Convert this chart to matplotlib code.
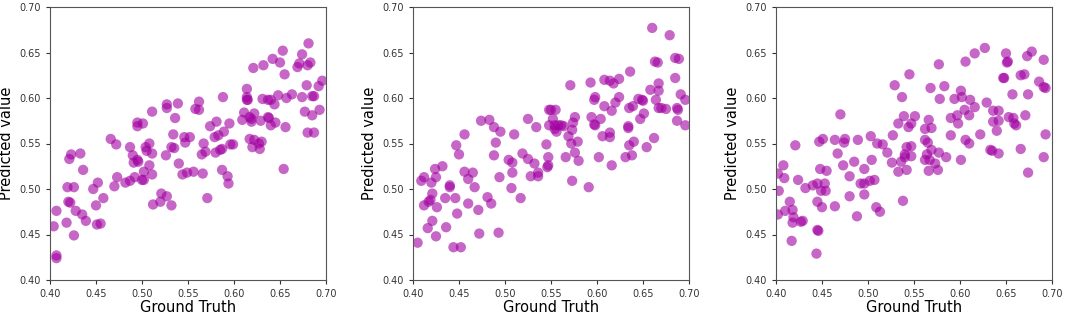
import matplotlib.pyplot as plt
import numpy as np

# 三个面板的散点数据 (真实值, 预测值)
gt_a = [0.407, 0.407, 0.404, 0.407, 0.418, 0.419, 0.420, 0.422, 0.421, 0.423,
        0.426, 0.426, 0.428, 0.433, 0.435, 0.436, 0.439, 0.447, 0.450, 0.452,
        0.451, 0.455, 0.458, 0.466, 0.470, 0.472, 0.473, 0.482, 0.487, 0.487,
        0.490, 0.492, 0.491, 0.495, 0.495, 0.501, 0.495, 0.496, 0.500, 0.502,
        0.502, 0.504, 0.505, 0.508, 0.508, 0.511, 0.511, 0.511, 0.512, 0.520,
        0.521, 0.526, 0.527, 0.527, 0.527, 0.532, 0.532, 0.534, 0.535, 0.536,
        0.539, 0.540, 0.544, 0.546, 0.547, 0.549, 0.552,
        0.556, 0.566, 0.558, 0.562, 0.562, 0.571, 0.567, 0.565, 0.569, 0.574,
        0.581, 0.579, 0.583, 0.589, 0.580, 0.585, 0.587, 0.588, 0.595, 0.596,
        0.599, 0.587, 0.593, 0.594, 0.609, 0.611, 0.614, 0.614, 0.615, 0.614,
        0.617, 0.619, 0.622, 0.619, 0.617, 0.620, 0.622, 0.627, 0.628, 0.630,
        0.621, 0.632, 0.629, 0.631, 0.637, 0.640, 0.644, 0.637, 0.638, 0.640,
        0.645, 0.642, 0.650, 0.648, 0.653, 0.655, 0.656, 0.654, 0.657, 0.663,
        0.669, 0.671, 0.674, 0.680, 0.683, 0.681, 0.674, 0.679, 0.677, 0.685,
        0.693, 0.680, 0.687, 0.685, 0.687, 0.692, 0.696]
pred_a = [0.427, 0.424, 0.459, 0.476, 0.463, 0.502, 0.486, 0.485, 0.533, 0.538,
          0.502, 0.449, 0.476, 0.539, 0.472, 0.521, 0.465, 0.500, 0.482, 0.507,
          0.461, 0.462, 0.490, 0.555, 0.503, 0.549, 0.513, 0.507, 0.546, 0.509,
          0.537, 0.513, 0.529, 0.569, 0.573, 0.572, 0.532, 0.530, 0.510, 0.510,
          0.519, 0.546, 0.542, 0.550, 0.526, 0.516, 0.539, 0.585, 0.483, 0.486,
          0.495, 0.537, 0.593, 0.589, 0.492, 0.482, 0.546, 0.560, 0.545, 0.578,
          0.594, 0.528, 0.516, 0.557, 0.551, 0.518, 0.557,
          0.519, 0.517, 0.588, 0.596, 0.587, 0.490, 0.550, 0.538, 0.541, 0.569,
          0.574, 0.557, 0.559, 0.563, 0.540, 0.543, 0.544, 0.601, 0.572, 0.549,
          0.549, 0.521, 0.514, 0.506, 0.576, 0.584, 0.610, 0.598, 0.598, 0.601,
          0.579, 0.574, 0.583, 0.577, 0.555, 0.546, 0.554, 0.550, 0.544, 0.552,
          0.633, 0.636, 0.575, 0.599, 0.598, 0.598, 0.593, 0.579, 0.578, 0.570,
          0.573, 0.643, 0.639, 0.603, 0.652, 0.626, 0.568, 0.522, 0.600, 0.604,
          0.634, 0.638, 0.648, 0.636, 0.639, 0.660, 0.601, 0.614, 0.585, 0.581,
          0.587, 0.562, 0.562, 0.602, 0.602, 0.613, 0.619]

gt_b = [0.405, 0.409, 0.412, 0.412, 0.417, 0.419, 0.421, 0.420, 0.425, 0.424,
        0.432, 0.426, 0.416, 0.421, 0.425, 0.436, 0.435, 0.440, 0.440, 0.446,
        0.444, 0.452, 0.447, 0.450, 0.448, 0.456, 0.456, 0.460, 0.465, 0.467,
        0.460, 0.471, 0.472, 0.474, 0.483, 0.488, 0.495, 0.481, 0.485, 0.490,
        0.488, 0.494, 0.493, 0.504, 0.508, 0.508, 0.507, 0.510, 0.517, 0.519,
        0.525, 0.532, 0.525, 0.528, 0.536, 0.536, 0.534, 0.545, 0.547, 0.546,
        0.547, 0.548, 0.550, 0.548, 0.552, 0.554,
        0.555, 0.554, 0.558, 0.561, 0.564, 0.556, 0.571, 0.576, 0.574, 0.573,
        0.569, 0.572, 0.579, 0.576, 0.580, 0.566, 0.573, 0.591, 0.593, 0.598,
        0.597, 0.594, 0.597, 0.598, 0.604, 0.606, 0.614, 0.614, 0.602, 0.616,
        0.608, 0.614, 0.618, 0.624, 0.608, 0.616, 0.620, 0.624, 0.636, 0.635,
        0.639, 0.634, 0.634, 0.640, 0.635, 0.638, 0.631, 0.645, 0.649, 0.650,
        0.647, 0.651, 0.654, 0.662, 0.658, 0.660, 0.663, 0.666, 0.667, 0.667,
        0.664, 0.667, 0.670, 0.675, 0.679, 0.685, 0.689, 0.685, 0.687, 0.688,
        0.687, 0.691, 0.696, 0.696]
pred_b = [0.441, 0.509, 0.513, 0.482, 0.486, 0.488, 0.495, 0.507, 0.513, 0.522,
          0.525, 0.480, 0.457, 0.465, 0.448, 0.458, 0.490, 0.504, 0.502, 0.490,
          0.436, 0.436, 0.548, 0.538, 0.473, 0.560, 0.519, 0.511, 0.518, 0.502,
          0.484, 0.477, 0.451, 0.575, 0.576, 0.568, 0.563, 0.491, 0.484, 0.551,
          0.537, 0.513, 0.452, 0.532, 0.529, 0.518, 0.501, 0.560, 0.490, 0.539,
          0.533, 0.528, 0.577, 0.514, 0.518, 0.514, 0.568, 0.549, 0.535, 0.524,
          0.526, 0.587, 0.587, 0.570, 0.577, 0.566,
          0.587, 0.570, 0.570, 0.570, 0.569, 0.563, 0.614, 0.579, 0.573, 0.565,
          0.558, 0.550, 0.552, 0.540, 0.531, 0.535, 0.509, 0.502, 0.617, 0.601,
          0.598, 0.579, 0.571, 0.570, 0.577, 0.558, 0.562, 0.557, 0.535, 0.526,
          0.620, 0.619, 0.616, 0.621, 0.591, 0.586, 0.595, 0.601, 0.629, 0.589,
          0.591, 0.569, 0.567, 0.552, 0.548, 0.537, 0.535, 0.599, 0.598, 0.597,
          0.577, 0.583, 0.546, 0.556, 0.609, 0.677, 0.640, 0.639, 0.616, 0.608,
          0.598, 0.589, 0.589, 0.588, 0.669, 0.644, 0.643, 0.622, 0.589, 0.587,
          0.575, 0.604, 0.598, 0.570]

gt_c = [0.402, 0.403, 0.402, 0.408, 0.409, 0.410, 0.415, 0.418, 0.419, 0.418,
        0.427, 0.429, 0.417, 0.421, 0.424, 0.432, 0.440, 0.445, 0.453, 0.445,
        0.450, 0.448, 0.455, 0.447, 0.451, 0.449, 0.454, 0.445, 0.446, 0.444,
        0.464, 0.475, 0.474, 0.470, 0.467, 0.473, 0.464, 0.480, 0.485, 0.480,
        0.488, 0.489, 0.492, 0.496, 0.502, 0.507, 0.496, 0.504, 0.496, 0.503,
        0.509, 0.513, 0.510, 0.516, 0.521, 0.527, 0.526, 0.533, 0.536, 0.540,
        0.540, 0.542, 0.547, 0.547, 0.542, 0.529, 0.533, 0.537, 0.539, 0.545,
        0.544, 0.547, 0.551, 0.538,
        0.562, 0.569, 0.566, 0.562, 0.565, 0.569, 0.564, 0.562, 0.567, 0.573,
        0.566, 0.576, 0.577, 0.585, 0.568, 0.577, 0.578, 0.583, 0.590, 0.597,
        0.594, 0.601, 0.602, 0.605, 0.610, 0.611, 0.616, 0.598, 0.590, 0.601,
        0.606, 0.610, 0.606, 0.616, 0.627, 0.622, 0.629, 0.636, 0.642, 0.636,
        0.640, 0.642, 0.633, 0.635, 0.642, 0.647, 0.648, 0.650, 0.651, 0.652,
        0.653, 0.658, 0.661, 0.659, 0.657, 0.666, 0.666, 0.670, 0.671, 0.673,
        0.678, 0.674, 0.674, 0.686, 0.691, 0.693, 0.691, 0.693, 0.691]
pred_c = [0.517, 0.498, 0.472, 0.526, 0.512, 0.476, 0.486, 0.477, 0.469, 0.463,
          0.464, 0.465, 0.443, 0.548, 0.510, 0.501, 0.504, 0.506, 0.506, 0.486,
          0.480, 0.522, 0.520, 0.552, 0.555, 0.498, 0.498, 0.455, 0.454, 0.429,
          0.554, 0.555, 0.551, 0.582, 0.539, 0.526, 0.481, 0.514, 0.530, 0.492,
          0.470, 0.554, 0.506, 0.506, 0.509, 0.510, 0.522, 0.532, 0.494, 0.558,
          0.480, 0.475, 0.550, 0.549, 0.540, 0.559, 0.529, 0.519, 0.530, 0.535,
          0.538, 0.546, 0.547, 0.536, 0.521, 0.614, 0.572, 0.601, 0.580, 0.626,
          0.568, 0.572, 0.580, 0.487,
          0.566, 0.567, 0.576, 0.554, 0.551, 0.543, 0.538, 0.532, 0.532, 0.528,
          0.520, 0.521, 0.540, 0.535, 0.611, 0.637, 0.599, 0.613, 0.578, 0.581,
          0.599, 0.608, 0.601, 0.587, 0.581, 0.598, 0.590, 0.572, 0.559, 0.532,
          0.554, 0.550, 0.640, 0.649, 0.655, 0.560, 0.595, 0.586, 0.586, 0.574,
          0.564, 0.575, 0.543, 0.542, 0.539, 0.622, 0.622, 0.649, 0.639, 0.640,
          0.579, 0.578, 0.570, 0.572, 0.604, 0.544, 0.625, 0.626, 0.581, 0.646,
          0.651, 0.518, 0.604, 0.618, 0.612, 0.611, 0.642, 0.560, 0.535]

panels = [(gt_a, pred_a), (gt_b, pred_b), (gt_c, pred_c)]
lefts = [50, 413, 776]

fig = plt.figure(figsize=(10.65, 3.16), dpi=100)
for (gt, pred), left in zip(panels, lefts):
    ax = fig.add_axes([left / 1065, 36 / 316, 276 / 1065, 273 / 316])
    ax.scatter(gt, pred, s=55, color='#a000a0', alpha=0.6, edgecolors='none')
    ax.set_xlim(0.40, 0.70)
    ax.set_ylim(0.40, 0.70)
    ax.set_xticks(np.arange(0.40, 0.701, 0.05))
    ax.set_yticks(np.arange(0.40, 0.701, 0.05))
    ax.tick_params(labelsize=7, length=3, colors='#333333')
    for sp in ax.spines.values():
        sp.set_color('#555555')
    ax.set_xlabel('Ground Truth', fontsize=10.5, labelpad=1)
    ax.set_ylabel('Predicted value', fontsize=10.5, labelpad=4)

plt.savefig('out.png', dpi=100, facecolor='white')
